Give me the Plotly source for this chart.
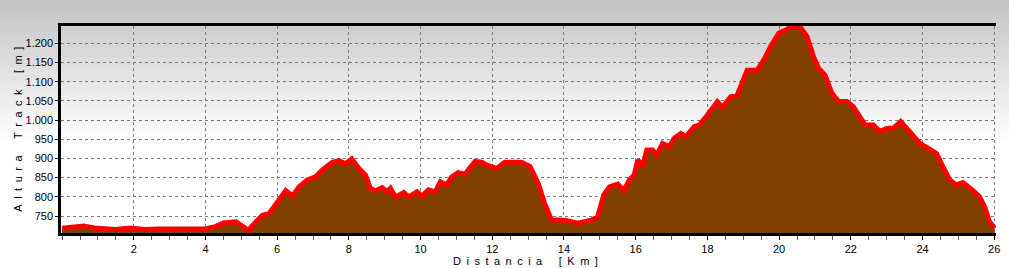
import plotly.graph_objects as go

# ---- data ----
distancia_km = [0, 0.3, 0.6, 0.9, 1.2, 1.5, 1.9, 2.3, 2.7, 3.1, 3.5, 4.0, 4.3, 4.5, 4.85, 4.95,
                5.08, 5.2, 5.41, 5.59, 5.78, 5.96, 6.24, 6.43, 6.61, 6.84, 7.07, 7.26, 7.54, 7.72,
                7.91, 8.08, 8.28, 8.46, 8.60, 8.74, 8.93, 9.06, 9.16, 9.30, 9.53, 9.67, 9.90, 10.04,
                10.22, 10.41, 10.55, 10.73, 10.87, 11.05, 11.24, 11.52, 11.70, 11.89, 12.12, 12.35,
                12.81, 13.05, 13.28, 13.46, 13.65, 14.02, 14.39, 14.76, 14.94, 15.11, 15.27, 15.5,
                15.67, 15.82, 15.96, 16.06, 16.19, 16.31, 16.47, 16.59, 16.75, 16.94, 17.07, 17.26,
                17.4, 17.63, 17.77, 18.0, 18.28, 18.42, 18.65, 18.83, 19.06, 19.11, 19.39, 19.57,
                19.76, 19.99, 20.22, 20.31, 20.59, 20.78, 20.96, 21.1, 21.28, 21.47, 21.66, 21.89,
                22.07, 22.26, 22.4, 22.63, 22.81, 23.0, 23.19, 23.39, 23.56, 23.74, 23.93, 24.16,
                24.39, 24.57, 24.76, 24.94, 25.13, 25.41, 25.59, 25.73, 25.87, 26.01]
altura_m = [718, 722, 724, 719, 716, 715, 719, 715, 716, 715, 716, 716, 723, 732, 735, 729,
            718, 713, 735, 752, 757, 779, 816, 802, 826, 844, 852, 870, 890, 894,
            886, 899, 874, 857, 822, 816, 824, 813, 822, 799, 811, 800, 813, 802,
            818, 813, 839, 831, 852, 863, 859, 892, 890, 881, 874, 890,
            890, 879, 835, 783, 740, 739, 731, 739, 748, 805, 826, 833,
            816, 844, 857, 896, 879, 922, 922, 909, 939, 931, 952, 965,
            957, 983, 987, 1013, 1048, 1033, 1061, 1065, 1126, 1130, 1130, 1156,
            1191, 1226, 1236, 1242, 1242, 1217, 1165, 1135, 1117, 1070, 1048, 1048,
            1035, 1005, 987, 987, 970, 978, 979, 996, 978, 961, 939, 926,
            913, 878, 844, 831, 837, 816, 800, 774, 735, 718]

y_tickvals = [750, 800, 850, 900, 950, 1000, 1050, 1100, 1150, 1200]
y_ticktext = ["750", "800", "850", "900", "950", "1.000", "1.050", "1.100", "1.150", "1.200"]
x_tickvals = [2, 4, 6, 8, 10, 12, 14, 16, 18, 20, 22, 24, 26]

y_title_words = ["Altura", "Track", "[m]"]
x_title_words = ["Distancia", "[Km]"]


def spaced(words):
    gap = "\u2002"
    return (gap * 3).join(gap.join(w) for w in words)


W, H = 1009, 268
ML, MR, MT, MB = 61, 9, 26, 35
plot_h = H - MT - MB
plot_w = W - ML - MR

fig = go.Figure()
fig.add_trace(go.Scatter(
    x=distancia_km, y=altura_m, mode="lines",
    line=dict(color="#ff0000", width=5),
    fill="tozeroy", fillcolor="#804000",
    hoverinfo="skip", showlegend=False,
))

# background vertical gradient (gray at top -> white)
shapes = []
step = 3
for p in range(0, 150, step):
    g = min(255, int(196 + 59 * (p / 140.0)))
    y1 = (H - MB - p) / plot_h
    y0 = (H - MB - p - step) / plot_h
    shapes.append(dict(type="rect", xref="paper", yref="paper",
                       x0=-0.1, x1=1.1, y0=y0, y1=y1 + 0.002,
                       fillcolor=f"rgb({g},{g},{g})", line=dict(width=0), layer="below"))
fig.update_layout(shapes=shapes)

font_tick = dict(family="Liberation Sans, Arial, sans-serif", size=11, color="#000000")

fig.update_xaxes(
    range=[-0.03, 26.05], tickvals=x_tickvals,
    ticks="outside", ticklen=4, tickcolor="#000000", tickwidth=1,
    minor=dict(dtick=0.5, tick0=0, ticks="outside", ticklen=4, tickcolor="#555555", showgrid=False),
    showgrid=True, gridcolor="#7a7a7a", gridwidth=1, griddash="3px,3px",
    showline=True, linecolor="#000000", linewidth=2.5, mirror=True,
    zeroline=False, tickfont=font_tick,
)
fig.update_yaxes(
    range=[705.7, 1245], tickvals=y_tickvals, ticktext=y_ticktext,
    ticks="outside", ticklen=3, tickcolor="#000000",
    showgrid=True, gridcolor="#7a7a7a", gridwidth=1, griddash="3px,3px",
    showline=True, linecolor="#000000", linewidth=2.5,
    zeroline=False, tickfont=font_tick,
)

fig.add_annotation(text=spaced(y_title_words), xref="paper", yref="paper",
                   x=(17 - ML) / plot_w, y=0.5, xanchor="center", yanchor="middle",
                   textangle=-90, showarrow=False,
                   font=dict(family="Liberation Sans, Arial, sans-serif", size=11, color="#000000"))
fig.add_annotation(text=spaced(x_title_words), xref="paper", yref="paper",
                   x=(527 - ML) / plot_w, y=-(261 - (H - MB)) / plot_h,
                   xanchor="center", yanchor="middle", showarrow=False,
                   font=dict(family="Liberation Sans, Arial, sans-serif", size=11, color="#000000"))

fig.update_layout(
    width=W, height=H, margin=dict(l=ML, r=MR, t=MT, b=MB, pad=0),
    paper_bgcolor="#ffffff", plot_bgcolor="rgba(0,0,0,0)",
    showlegend=False,
)

fig.write_html("out.html", config={"displayModeBar": False})
